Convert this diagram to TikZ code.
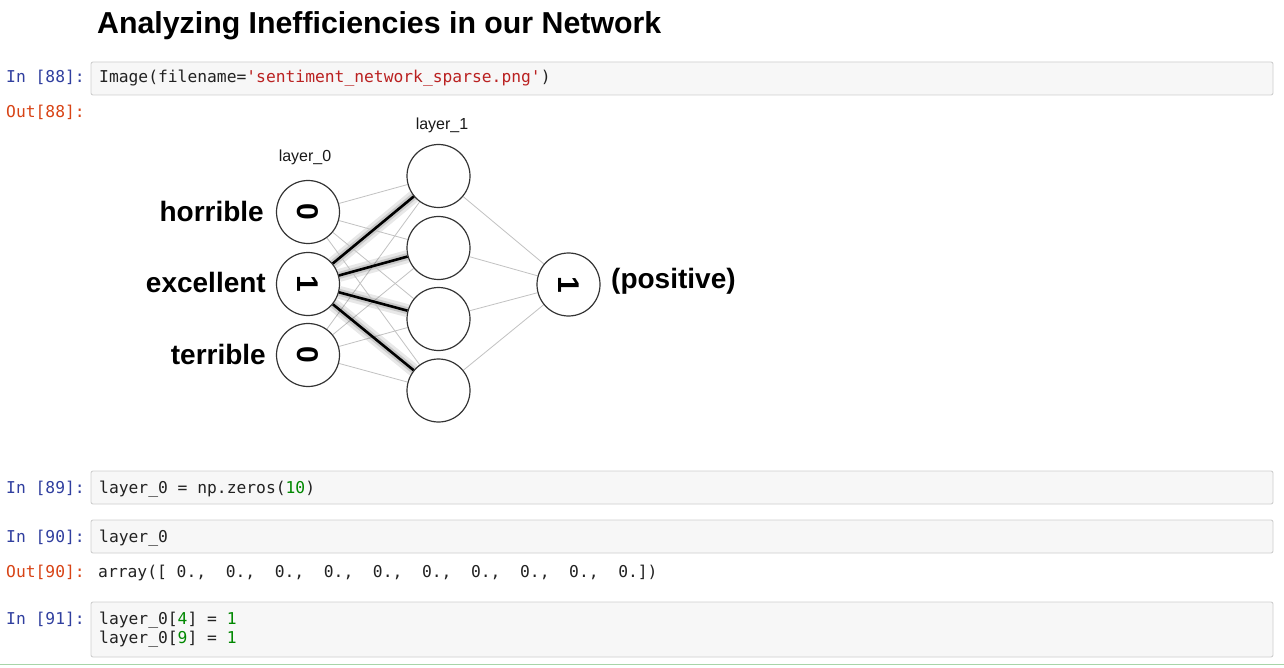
\documentclass[tikz,border=0pt]{standalone}
\usepackage{fontspec}
\setmainfont{Liberation Sans}
\newfontfamily\codefont{DejaVu Sans Mono}
\usetikzlibrary{backgrounds}
\definecolor{inblue}{HTML}{303F9F}
\definecolor{outred}{HTML}{D84315}
\definecolor{strred}{HTML}{BA2121}
\definecolor{numgreen}{HTML}{008800}
\definecolor{cellbg}{HTML}{F7F7F7}
\definecolor{cellborder}{HTML}{CFCFCF}
\definecolor{edgegray}{HTML}{C2C2C2}
\definecolor{sepgreen}{HTML}{A8D5A8}
\definecolor{codetext}{HTML}{222222}
\begin{document}
\begin{tikzpicture}[x=1pt,y=-1pt,
  cell/.style={draw=cellborder, fill=cellbg, line width=0.9pt, rounded corners=2pt},
  prompt/.style={anchor=base west, inner sep=0pt, font=\codefont\fontsize{16.3}{19}\selectfont},
  code/.style={anchor=base west, inner sep=0pt, font=\codefont\fontsize{16.3}{19}\selectfont, text=codetext},
  neuron/.style={circle, draw=black!80, line width=1.2pt, minimum size=63pt, inner sep=0pt, fill=white, font=\bfseries\fontsize{30}{30}\selectfont},
  wlabel/.style={font=\bfseries\fontsize{28}{30}\selectfont, inner sep=0pt},
  llabel/.style={font=\fontsize{16}{18}\selectfont, inner sep=0pt, text=black!90},
  weak/.style={draw=edgegray, line width=0.8pt},
  strong/.style={draw=black, line width=2.6pt},
  shade1/.style={draw=black, opacity=0.09, line width=13pt, xshift=3pt, yshift=-5pt},
  shade2/.style={draw=black, opacity=0.13, line width=7pt, xshift=2pt, yshift=-3pt},
]
\useasboundingbox (0,0) rectangle (1284,668);

% title
\node[anchor=base west, inner sep=0pt, font=\bfseries\fontsize{30.3}{34}\selectfont] (title) at (97,34) {Analyzing Inefficiencies in our Network};

% cell 88
\node[prompt, text=inblue] (in88) at (6,83) {In [88]:};
\draw[cell] (91,62) rectangle (1273,95);
\node[code] (c88) at (99,83) {Image(filename=\textcolor{strred}{\textquotesingle sentiment\_network\_sparse.png\textquotesingle})};
\node[prompt, text=outred] (out88) at (6,118) {Out[88]:};

% network
\node[neuron] (x1) at (308,212) {\rotatebox{-90}{0}};
\node[neuron] (x2) at (308,284) {\rotatebox{-90}{1}};
\node[neuron] (x3) at (308,355) {\rotatebox{-90}{0}};
\node[neuron] (h1) at (438.5,176) {};
\node[neuron] (h2) at (438.5,248) {};
\node[neuron] (h3) at (438.5,319) {};
\node[neuron] (h4) at (438.5,390.5) {};
\node[neuron] (y) at (568.5,284.5) {\rotatebox{-90}{1}};

\node[wlabel, anchor=east] (lh) at (264,211) {horrible};
\node[wlabel, anchor=east] (le) at (266,282) {excellent};
\node[wlabel, anchor=east] (lt) at (266,354) {terrible};
\node[wlabel, anchor=west] (lp) at (611,281) {(positive)};
\node[llabel] (l0) at (305,157) {layer\_0};
\node[llabel] (l1) at (442,125) {layer\_1};

\begin{pgfonlayer}{background}
  \fill[white] (0,0) rectangle (1284,668);
  \foreach \h in {h1,h2,h3,h4} {
    \draw[weak] (x1) -- (\h);
    \draw[weak] (x3) -- (\h);
    \draw[weak] (\h) -- (y);
    \draw[shade1] (x2) -- (\h);
    \draw[shade2] (x2) -- (\h);
  }
\end{pgfonlayer}
\foreach \h in {h1,h2,h3,h4} {
  \draw[strong] (x2) -- (\h);
}

% cell 89
\node[prompt, text=inblue] (in89) at (6,493) {In [89]:};
\draw[cell] (91,471) rectangle (1273,504);
\node[code] (c89) at (99,493) {layer\_0 = np.zeros(\textcolor{numgreen}{10})};

% cell 90
\node[prompt, text=inblue] (in90) at (6,542) {In [90]:};
\draw[cell] (91,520) rectangle (1273,553);
\node[code] (c90) at (99,542) {layer\_0};
\node[prompt, text=outred] (out90) at (6,577) {Out[90]:};
\node[code] (o90) at (98,577) {array([ 0.,\ \ 0.,\ \ 0.,\ \ 0.,\ \ 0.,\ \ 0.,\ \ 0.,\ \ 0.,\ \ 0.,\ \ 0.])};

% cell 91
\node[prompt, text=inblue] (in91) at (6,624) {In [91]:};
\draw[cell] (91,602) rectangle (1273,657);
\node[code] (c91a) at (99,624) {layer\_0[\textcolor{numgreen}{4}] = \textcolor{numgreen}{1}};
\node[code] (c91b) at (99,643) {layer\_0[\textcolor{numgreen}{9}] = \textcolor{numgreen}{1}};

% separator
\draw[sepgreen, line width=1.6pt] (0,664.5) -- (1284,664.5);
\end{tikzpicture}
\end{document}
